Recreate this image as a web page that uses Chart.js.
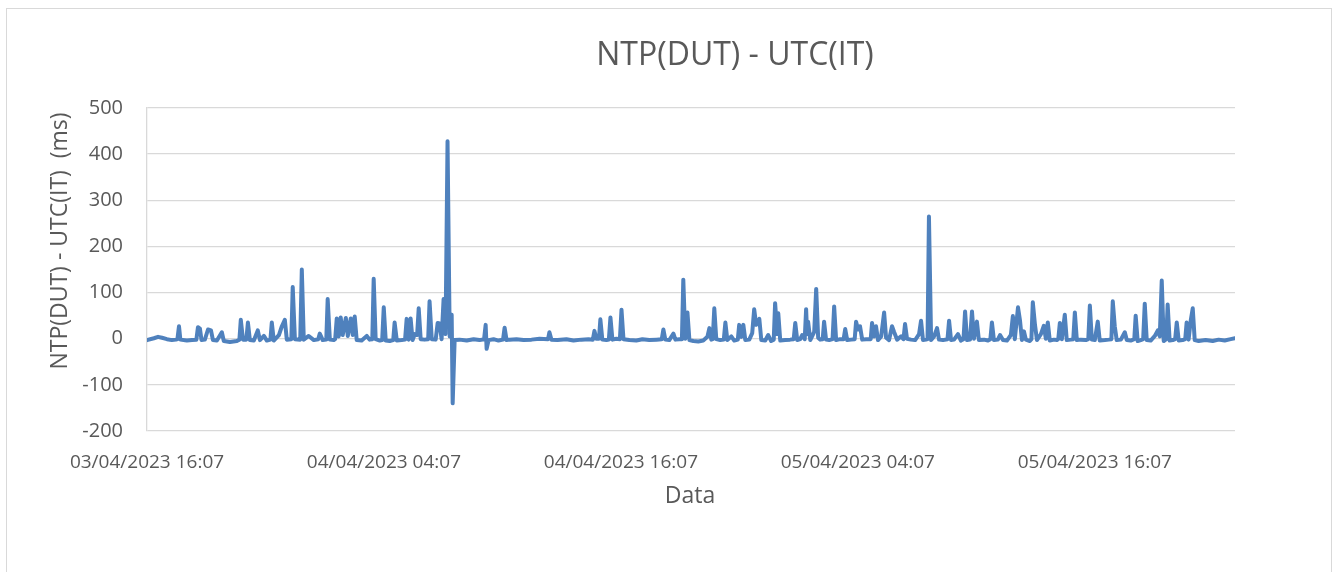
<!DOCTYPE html>
<html>
<head>
<meta charset="utf-8">
<script src="https://cdn.jsdelivr.net/npm/chart.js@4.4.1/dist/chart.umd.min.js"></script>
<style>
    body { margin: 0; background: #fff; }
    #frame {
        position: absolute; left: 6px; top: 8px;
        width: 1326px; height: 600px;
        border: 1px solid #d9d9d9; box-sizing: border-box;
    }
    #wrap { position: absolute; left: 0; top: 0; width: 1340px; height: 572px; }
</style>
</head>
<body>
<div id="frame"></div>
<div id="wrap"><canvas id="ntpChart" width="1340" height="572"></canvas></div>
<script>
// Hours since 03/04/2023 16:07 and the measured offset (ms) at each sample
const sampleHours = [
    0, 0.35, 0.56, 0.76, 1.01, 1.26, 1.47, 1.54, 1.62, 1.69,
    2.02, 2.28, 2.50, 2.58, 2.68, 2.76, 2.93, 3.09, 3.24, 3.34,
    3.54, 3.79, 3.89, 4.20, 4.55, 4.68, 4.75, 4.86, 5.03, 5.11,
    5.21, 5.41, 5.61, 5.72, 5.92, 6.07, 6.25, 6.32, 6.42, 6.68,
    6.83, 6.98, 7.08, 7.31, 7.38, 7.49, 7.76, 7.84, 7.94, 8.19,
    8.45, 8.67, 8.75, 8.90, 9.08, 9.15, 9.26, 9.46, 9.53, 9.61,
    9.71, 9.81, 9.91, 10.07, 10.17, 10.32, 10.42, 10.52, 10.62, 10.87,
    11.13, 11.28, 11.41, 11.48, 11.58, 11.79, 11.91, 11.99, 12.09, 12.29,
    12.47, 12.54, 12.65, 12.90, 13.07, 13.15, 13.25, 13.35, 13.45, 13.56,
    13.68, 13.76, 13.86, 14.06, 14.24, 14.31, 14.42, 14.62, 14.72, 14.82,
    14.92, 15.02, 15.12, 15.22, 15.33, 15.43, 15.48, 15.58, 15.83, 16.19,
    16.54, 16.84, 17.07, 17.15, 17.20, 17.30, 17.55, 17.80, 18.03, 18.11,
    18.21, 18.36, 18.71, 19.07, 19.47, 19.88, 20.31, 20.38, 20.48, 20.79,
    21.24, 21.60, 22.00, 22.36, 22.58, 22.66, 22.76, 22.89, 22.96, 23.06,
    23.27, 23.39, 23.47, 23.57, 23.77, 23.95, 24.03, 24.13, 24.43, 24.78,
    25.09, 25.44, 25.80, 26.07, 26.15, 26.25, 26.45, 26.66, 26.76, 26.96,
    27.09, 27.16, 27.26, 27.37, 27.47, 27.67, 27.92, 28.17, 28.38, 28.48,
    28.58, 28.65, 28.73, 28.83, 29.03, 29.21, 29.29, 29.39, 29.59, 29.74,
    29.92, 29.99, 30.10, 30.20, 30.30, 30.50, 30.65, 30.75, 30.85, 31.01,
    31.11, 31.31, 31.46, 31.61, 31.74, 31.81, 31.92, 31.97, 32.07, 32.32,
    32.57, 32.75, 32.83, 32.93, 33.08, 33.18, 33.31, 33.38, 33.43, 33.48,
    33.59, 33.79, 33.89, 33.99, 34.09, 34.22, 34.29, 34.39, 34.55, 34.72,
    34.80, 34.90, 35.10, 35.28, 35.36, 35.46, 35.66, 35.84, 35.91, 36.01,
    36.11, 36.22, 36.42, 36.65, 36.72, 36.82, 36.92, 37.02, 37.18, 37.33,
    37.43, 37.58, 37.73, 37.83, 37.99, 38.19, 38.31, 38.39, 38.49, 38.69,
    38.90, 39.10, 39.20, 39.30, 39.45, 39.53, 39.60, 39.71, 39.86, 40.01,
    40.11, 40.31, 40.54, 40.62, 40.72, 40.87, 41.07, 41.22, 41.35, 41.43,
    41.53, 41.68, 41.78, 41.88, 42.03, 42.13, 42.39, 42.59, 42.71, 42.79,
    42.89, 43.09, 43.20, 43.35, 43.55, 43.75, 43.85, 43.95, 44.11, 44.21,
    44.31, 44.41, 44.51, 44.71, 44.79, 44.86, 44.97, 45.07, 45.27, 45.42,
    45.52, 45.62, 45.72, 45.93, 46.08, 46.15, 46.23, 46.33, 46.48, 46.58,
    46.79, 46.91, 46.99, 47.09, 47.29, 47.55, 47.67, 47.75, 47.85, 48.00,
    48.15, 48.25, 48.51, 48.71, 48.84, 48.91, 49.01, 49.11, 49.32, 49.52,
    49.62, 49.82, 50.00, 50.07, 50.17, 50.33, 50.45, 50.53, 50.63, 50.83,
    51.04, 51.19, 51.29, 51.39, 51.49, 51.62, 51.69, 51.79, 51.95, 52.07,
    52.15, 52.25, 52.45, 52.58, 52.65, 52.75, 52.86, 52.96, 53.06, 53.26,
    53.61, 53.97, 54.27, 54.58, 54.88, 55.10
];

const offsetMs = [
    -3, 1, 4, 2, -1, -3, -2, -1, 27, -2,
    -4, -3, -2, 25, 22, -3, -2, 20, 18, -3,
    -4, 14, -5, -7, -5, -2, 41, -2, -2, 35,
    -3, -4, 18, -3, 6, -4, -2, 35, -4, 8,
    27, 41, -2, -1, 112, -1, -2, 150, -2, 6,
    -3, -1, 11, -3, -2, 86, -2, -3, -1, 44,
    5, 46, 8, 45, 6, 44, 8, 48, -3, -4,
    6, -2, -1, 130, -1, -4, -3, 68, -4, -5,
    -3, 35, -4, -3, -2, 43, -2, 44, -3, 10,
    8, 66, -1, -2, -1, 81, -1, -2, 34, 33,
    -1, 86, 10, 428, 5, 52, -140, -3, -2, -4,
    -1, -3, -1, 30, -22, -3, -1, -4, -2, 24,
    -3, -2, -1, -3, -2, 0, -1, 14, -2, -3,
    -1, -4, -2, -1, -2, 17, 0, 0, 42, -2,
    -3, -2, 46, -2, 0, -1, 63, -1, -3, -4,
    -1, -3, -2, -1, 20, -2, -3, 11, -2, -1,
    -1, 128, 0, 57, -3, -5, -6, -4, 4, 23,
    -2, -1, 66, -1, -3, -2, 35, -3, 5, -4,
    -2, 30, 4, 30, -3, -2, 12, 64, 30, 43,
    -3, -4, 8, -5, -2, 77, 10, 55, -4, -3,
    -2, -1, 34, -3, -1, 8, -1, 64, 10, 37,
    -3, 15, 108, 2, -2, -1, 37, -2, -3, -1,
    70, -3, -1, -1, 21, -3, -2, -1, 37, 20,
    27, -2, -1, -1, 34, 5, 27, -3, 5, 57,
    2, -3, 27, 15, -2, 5, -1, 32, 0, -2,
    -3, 10, 39, -3, -2, -1, 265, -3, 5, 23,
    -2, -3, -1, 39, -3, -2, 10, -4, -1, 59,
    -3, -2, 59, 0, 37, -3, -2, -4, -1, 35,
    -3, -2, 8, -3, -4, 8, 49, -1, 68, 40,
    -3, 16, -2, -5, -1, 79, 30, -3, 10, 28,
    0, 35, -4, -2, -3, -1, 34, -1, 52, -3,
    -2, -1, 57, -3, -2, -3, -1, 72, -2, -3,
    37, -4, -3, -2, -1, 81, 27, -3, -2, 14,
    -3, -4, -1, 50, -5, -3, -1, 76, -3, -4,
    6, 18, 5, 126, -5, -1, 74, -4, -3, -1,
    35, -4, -3, -1, 35, -2, 40, 66, -3, -5,
    -3, -5, -2, -4, -1, 1
];

const tickHours = [0, 12, 24, 36, 48];
const tickLabels = ['03/04/2023 16:07', '04/04/2023 04:07', '04/04/2023 16:07', '05/04/2023 04:07', '05/04/2023 16:07'];

const chartTitle = 'NTP(DUT) - UTC(IT)';
const xTitle = 'Data';
const yTitle = 'NTP(DUT) - UTC(IT)  (ms)';

const textColor = '#595959';
const gridColor = '#d9d9d9';
const lineColor = '#4f81bd';

// Title and axis titles, placed like the Excel original
const excelText = {
    id: 'excelText',
    afterDraw(chart) {
        const ctx = chart.ctx;
        ctx.save();
        ctx.fillStyle = textColor;
        ctx.textAlign = 'center';
        ctx.textBaseline = 'middle';
        ctx.font = '32px "Open Sans"';
        ctx.fillText(chartTitle, 735, 56);
        ctx.font = '23px "Open Sans"';
        ctx.fillText(xTitle, 690, 496);
        ctx.translate(60, 241);
        ctx.rotate(-Math.PI / 2);
        ctx.fillText(yTitle, 0, 0);
        ctx.restore();
    }
};

const points = sampleHours.map((h, i) => ({ x: h, y: offsetMs[i] }));

new Chart(document.getElementById('ntpChart'), {
    type: 'line',
    data: {
        datasets: [{
            label: yTitle,
            data: points,
            borderColor: lineColor,
            borderWidth: 4,
            borderJoinStyle: 'round',
            borderCapStyle: 'round',
            pointRadius: 0,
            tension: 0,
            fill: false
        }]
    },
    options: {
        responsive: false,
        animation: false,
        layout: {
            padding: { top: 108, right: 105, bottom: 0, left: 0 }
        },
        plugins: {
            legend: { display: false },
            tooltip: { enabled: false }
        },
        scales: {
            x: {
                type: 'linear',
                min: 0,
                max: 55.1,
                afterBuildTicks: (scale) => {
                    scale.ticks = tickHours.map(v => ({ value: v }));
                },
                afterFit: (scale) => { scale.height = 141; },
                grid: { display: false, drawTicks: false },
                border: { display: false },
                ticks: {
                    color: textColor,
                    font: { family: 'Open Sans', size: 19 },
                    padding: 20,
                    maxRotation: 0,
                    autoSkip: false,
                    callback: function(value) {
                        const idx = tickHours.indexOf(value);
                        return idx >= 0 ? tickLabels[idx] : '';
                    }
                }
            },
            y: {
                min: -200,
                max: 500,
                afterFit: (scale) => { scale.width = 147; },
                grid: {
                    color: gridColor,
                    lineWidth: 1.3,
                    drawTicks: false
                },
                border: { display: true, color: gridColor, width: 1.3 },
                ticks: {
                    stepSize: 100,
                    color: textColor,
                    font: { family: 'Open Sans', size: 20 },
                    padding: 24
                }
            }
        }
    },
    plugins: [excelText]
});
</script>
</body>
</html>
